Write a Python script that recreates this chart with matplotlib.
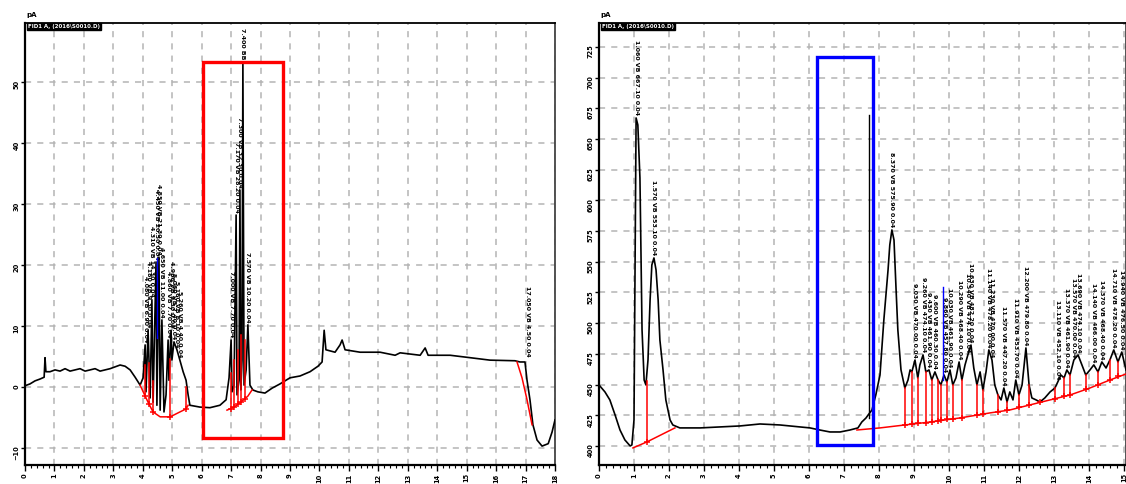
import numpy as np
import matplotlib.pyplot as plt
from matplotlib.patches import Rectangle
from matplotlib.ticker import MultipleLocator

plt.rcParams['font.family'] = 'DejaVu Sans'
plt.rcParams['font.weight'] = 'bold'

# ---- left run (signal vs time) ----
left_t = [0.00, 0.17, 0.34, 0.51, 0.65, 0.68, 0.71, 0.85, 1.02, 1.19, 1.36, 1.53, 1.70, 1.87,
          2.04, 2.21, 2.38, 2.55, 2.72, 2.89, 3.06, 3.23, 3.40, 3.57, 3.74, 3.91, 4.01, 4.08,
          4.11, 4.18, 4.25, 4.31, 4.35, 4.45, 4.48, 4.55, 4.59, 4.65, 4.72, 4.79, 4.86, 4.89,
          4.96, 4.99, 5.06, 5.16, 5.26, 5.37, 5.47, 5.54, 5.60, 5.94, 6.28, 6.62, 6.83, 6.93,
          7.00, 7.03, 7.10, 7.17, 7.20, 7.27, 7.30, 7.33, 7.37, 7.40, 7.44, 7.51, 7.57, 7.64,
          7.74, 7.91, 8.15, 8.39, 8.66, 9.00, 9.34, 9.68, 9.95, 10.09, 10.16, 10.22, 10.53,
          10.70, 10.77, 10.87, 11.38, 12.06, 12.57, 12.74, 13.42, 13.59, 13.69, 14.44, 15.12,
          15.79, 16.64, 16.81, 16.98, 17.05, 17.15, 17.25, 17.39, 17.56, 17.77, 17.90, 18.00]
left_v = [0.2, 0.5, 1.0, 1.3, 1.6, 4.8, 2.5, 2.5, 2.8, 2.6, 3.0, 2.6, 2.8, 3.0,
          2.6, 2.8, 3.0, 2.6, 2.8, 3.0, 3.3, 3.6, 3.4, 2.8, 1.6, 0.3, 1.5, 6.9,
          -0.8, 9.3, -1.8, 14.3, -2.5, 20.5, -3.0, 21.3, -3.8, 11.0, -4.1, -1.3, 7.7, 1.1,
          9.3, 4.4, 7.4, 6.1, 4.4, 2.5, 1.1, -1.3, -3.0, -3.3, -3.4, -3.0, -2.1, 1.5,
          7.7, -0.8, 0.3, 28.2, -1.3, 1.1, 32.3, -0.5, 4.4, 53.3, 0.3, 2.8, 10.2, 0.3,
          -0.5, -0.8, -1.0, -0.2, 0.5, 1.5, 1.8, 2.5, 3.4, 4.1, 9.3, 6.1, 5.7,
          6.9, 7.7, 6.1, 5.7, 5.7, 5.2, 5.6, 5.2, 6.4, 5.2, 5.2, 4.8,
          4.4, 4.3, 4.1, 4.1, 1.1, -2.1, -6.2, -8.7, -9.7, -9.3, -7.4, -5.4]

left_base = [
    ([3.91, 4.08, 4.21, 4.35, 4.59, 4.93, 5.26, 5.47, 5.54], [0.3, -1.5, -2.8, -4.1, -4.9, -4.9, -4.1, -3.6, -3.0]),
    ([6.86, 7.10, 7.33, 7.57, 7.71], [-3.8, -3.3, -2.5, -1.5, -0.5]),
    ([16.71, 16.88, 17.05, 17.22], [4.1, 1.5, -2.1, -6.2]),
]
left_drop_t = [4.08, 4.21, 4.35, 4.93, 5.47, 7.00, 7.10, 7.24, 7.33, 7.47]
left_drop_top = [3.6, 4.0, 1.0, 4.6, 0.0, 2.3, 4.4, 6.1, 8.5, 7.7]
left_drop_bot = [-1.5, -2.8, -4.1, -4.9, -3.6, -3.6, -3.3, -2.8, -2.5, -1.9]

left_peak_t = [4.08, 4.18, 4.31, 4.45, 4.55, 4.65, 4.86, 4.96, 5.06, 5.16, 5.26,
               7.00, 7.17, 7.30, 7.40, 7.57, 17.05]
left_peak_v = [6.9, 9.3, 14.3, 20.5, 21.3, 11.0, 7.7, 9.3, 7.4, 6.1, 4.4,
               7.7, 28.2, 32.3, 53.3, 10.2, 4.5]

# ---- right run ----
right_t = [0.00, 0.17, 0.31, 0.46, 0.60, 0.74, 0.89, 0.94, 1.00, 1.06, 1.11, 1.17, 1.23, 1.29,
           1.34, 1.40, 1.46, 1.51, 1.57, 1.63, 1.69, 1.74, 1.83, 1.91, 2.03, 2.11, 2.31, 2.89,
           3.46, 4.03, 4.60, 5.17, 5.74, 6.03, 6.31, 6.60, 6.89, 7.17, 7.40, 7.51, 7.63, 7.69,
           7.80, 7.91, 8.03, 8.14, 8.26, 8.31, 8.37, 8.43, 8.49, 8.54, 8.63, 8.74, 8.83, 8.89,
           8.94, 9.03, 9.11, 9.17, 9.26, 9.34, 9.43, 9.51, 9.60, 9.69, 9.77, 9.86, 9.94, 10.03,
           10.11, 10.20, 10.29, 10.37, 10.46, 10.54, 10.63, 10.71, 10.80, 10.89, 10.97, 11.06,
           11.14, 11.23, 11.31, 11.40, 11.49, 11.57, 11.66, 11.74, 11.83, 11.91, 12.00, 12.09,
           12.20, 12.29, 12.37, 12.49, 12.60, 12.74, 12.89, 13.03, 13.11, 13.20, 13.29, 13.37,
           13.46, 13.57, 13.69, 13.80, 13.91, 14.03, 14.14, 14.26, 14.37, 14.49, 14.60, 14.71,
           14.83, 14.94, 15.06]
right_v = [449.7, 444.0, 437.5, 425.2, 413.0, 404.9, 400.0, 400.8, 421.2, 667.1, 661.4, 618.2, 494.5, 453.7,
           449.7, 470.0, 518.9, 547.4, 553.1, 543.3, 518.9, 486.3, 461.9, 437.5, 421.2, 417.1, 414.7, 414.7,
           415.5, 416.3, 417.9, 417.1, 415.5, 414.7, 413.0, 411.4, 411.4, 413.0, 414.7, 419.5, 422.8, 425.2,
           429.3, 441.5, 457.8, 502.6, 543.3, 563.7, 575.9, 567.7, 527.0, 494.5, 461.9, 447.2, 453.7, 461.9,
           460.3, 470.0, 455.4, 466.0, 474.1, 460.3, 461.9, 453.7, 460.3, 453.7, 449.7, 457.8, 452.1, 461.9,
           449.7, 455.4, 468.4, 453.7, 466.0, 474.1, 482.2, 463.5, 449.7, 460.3, 445.6, 460.3,
           478.2, 470.0, 449.7, 441.5, 437.5, 447.2, 435.8, 444.0, 437.5, 453.7, 441.5, 449.7,
           479.8, 449.7, 439.1, 437.5, 435.8, 439.1, 444.0, 447.2, 452.1, 457.8, 455.4, 461.9,
           457.8, 470.0, 474.1, 466.0, 457.8, 461.9, 466.0, 460.3, 468.4, 463.5, 470.0, 478.2,
           468.4, 476.5, 461.9]

right_base = [
    ([0.97, 1.37, 2.17], [398.4, 403.3, 414.7]),
    ([7.37, 8.03, 8.74, 9.46, 10.31, 11.17, 11.74, 12.31, 12.89, 13.46, 14.03, 14.60, 15.06],
     [413.0, 414.7, 417.1, 419.5, 422.8, 426.9, 429.3, 433.4, 437.5, 441.5, 447.2, 453.7, 458.6]),
]
right_drop_t = [1.37, 8.74, 8.94, 9.11, 9.34, 9.51, 9.69, 9.77, 9.94, 10.11, 10.37, 10.80, 10.97,
                11.40, 11.66, 12.00, 12.29, 12.60, 13.03, 13.29, 13.46, 13.91, 14.26, 14.60, 14.83]
right_drop_top = [453.0, 447.2, 460.3, 455.4, 460.3, 453.7, 453.7, 449.7, 452.1, 449.7, 453.7, 449.7, 445.6,
                  441.5, 435.8, 441.5, 449.7, 435.8, 447.2, 455.4, 457.8, 457.8, 460.3, 470.0, 468.4]
right_drop_bot = [403.3, 417.1, 417.8, 418.4, 419.1, 419.7, 420.6, 421.0, 421.6, 422.0, 423.1, 425.2, 426.0,
                  427.9, 429.0, 431.4, 433.2, 435.5, 438.5, 440.3, 441.5, 446.0, 449.8, 453.7, 456.6]

right_peak_t = [1.06, 1.57, 8.37, 9.03, 9.26, 9.43, 9.60, 9.86, 10.03, 10.29, 10.54, 10.63, 11.14,
                11.23, 11.57, 11.91, 12.20, 13.11, 13.37, 13.57, 13.69, 14.14, 14.37, 14.71, 14.94]
right_peak_v = [667.1, 553.1, 575.9, 470.0, 474.1, 461.9, 460.3, 457.8, 461.9, 468.4, 474.1, 482.2, 478.2,
                470.0, 447.2, 453.7, 479.8, 452.1, 461.9, 470.0, 474.1, 466.0, 468.4, 478.2, 476.5]


fig = plt.figure(figsize=(11.26, 4.84), dpi=100)
ax1 = fig.add_axes([25/1126, 1-465/484, 530/1126, 442/484])
ax2 = fig.add_axes([599/1126, 1-465/484, 527/1126, 442/484])


def setup(ax, xmax, ylo, yhi, ystep):
    ax.set_xlim(0, xmax)
    ax.set_ylim(ylo, yhi)
    ax.xaxis.set_major_locator(MultipleLocator(1))
    ax.xaxis.set_minor_locator(MultipleLocator(0.2))
    ax.yaxis.set_major_locator(MultipleLocator(ystep))
    ax.xaxis.set_major_formatter(lambda x, p: f"{x:.0f}")
    ax.grid(True, which='major', color='#b4b4b4', linestyle=(0, (4, 4)), linewidth=1.1)
    ax.set_axisbelow(True)
    ax.tick_params(axis='x', which='major', length=4, width=1, labelsize=4.8, labelrotation=90, pad=2)
    ax.tick_params(axis='x', which='minor', length=2.5, width=0.8)
    ax.tick_params(axis='y', length=3, width=1, labelsize=4.8, labelrotation=90, pad=1)
    for s in ['left', 'bottom']:
        ax.spines[s].set_linewidth(1.6)
    ax.spines['top'].set_linewidth(1.3)
    ax.spines['right'].set_linewidth(1.3)
    ax.spines['right'].set_color('#444444')
    ax.text(0.006, 0.997, 'FID1 A, (2016\\S0010.D)', transform=ax.transAxes, fontsize=4,
            color='white', va='top', ha='left',
            bbox=dict(facecolor='black', edgecolor='black', pad=0.6))


def draw_run(ax, t, v, bases, dt, dtop, dbot, pt, pv, gap, tall):
    ax.plot(t, v, color='black', lw=1.2, zorder=3)
    for bt, bv in bases:
        ax.plot(bt, bv, color='red', lw=1.1, zorder=4)
    for x, a, b in zip(dt, dtop, dbot):
        ax.plot([x, x], [b, a], color='red', lw=1.1, zorder=4)
        ax.plot(x, b, '+', color='red', ms=5, mew=1.1, zorder=4)
    for x, y in zip(pt, pv):
        if y > tall:
            txt = f"{x:.3f} BB"
        else:
            txt = f"{x:.3f} VB {y:.2f} 0.04"
        ax.text(x, y + gap, txt, rotation=270, fontsize=4.5, ha='center', va='bottom',
                color='black', zorder=5)


setup(ax1, 18, -12.8, 59.7, 10)
setup(ax2, 15.06, 384.5, 744.4, 25)

draw_run(ax1, left_t, left_v, left_base, left_drop_t, left_drop_top, left_drop_bot,
         left_peak_t, left_peak_v, 0.4, 45)
draw_run(ax2, right_t, right_v, right_base, right_drop_t, right_drop_top, right_drop_bot,
         right_peak_t, right_peak_v, 2.0, 700)

# highlight boxes and markers
ax1.add_patch(Rectangle((6.05, -8.4), 8.76 - 6.05, 53.3 + 8.4, fill=False, ec='red', lw=2.4, zorder=6))
ax2.add_patch(Rectangle((6.23, 400.8), 7.83 - 6.23, 716.8 - 400.8, fill=False, ec='blue', lw=2.4, zorder=6))
ax1.plot([4.48, 4.48], [8.0, 21.1], color='blue', lw=1.0, zorder=5)
ax2.plot([9.83, 9.83], [453.7, 529.5], color='blue', lw=1.0, zorder=5)
ax2.plot([7.71, 7.71], [422.8, 669.5], color='black', lw=1.0, zorder=3)

fig.text(26/1126, 1-15/484, 'pA', fontsize=5, va='center', ha='left')
fig.text(600/1126, 1-15/484, 'pA', fontsize=5, va='center', ha='left')

fig.savefig('out.png', dpi=100)
